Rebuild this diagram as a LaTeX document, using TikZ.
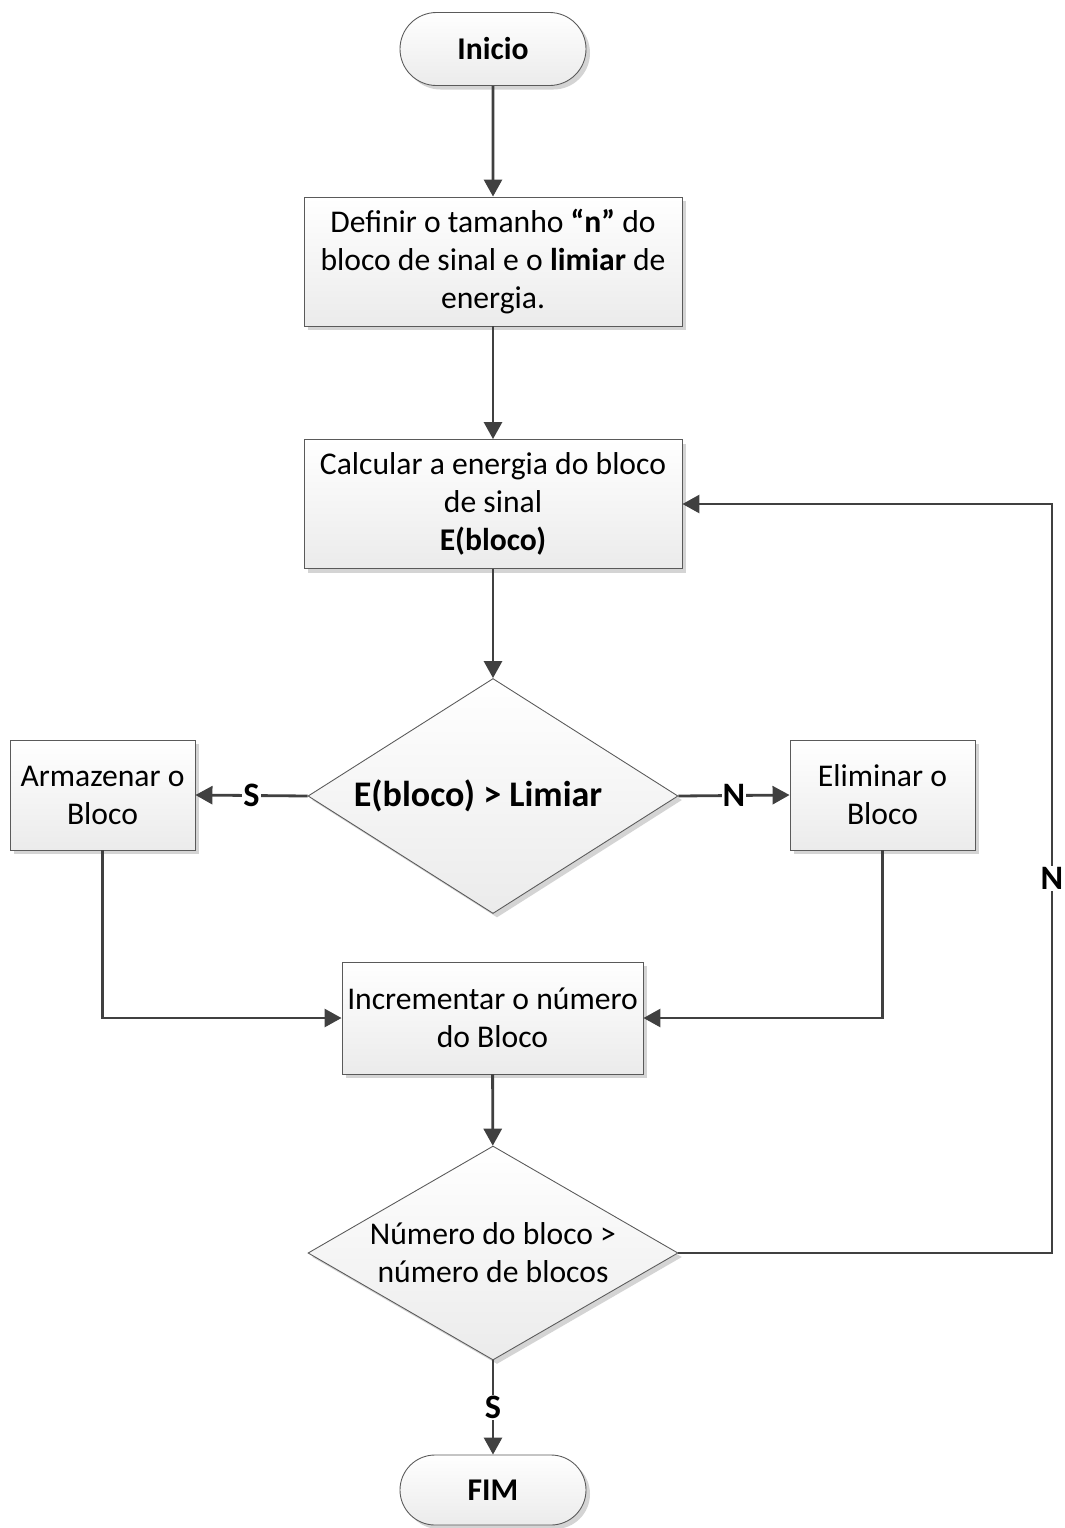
\documentclass[tikz,border=0pt]{standalone}
\usepackage{fontspec}
\setmainfont{Carlito}
\usepackage{tikz}
\usetikzlibrary{arrows.meta,calc,positioning,shapes.geometric,shapes.misc,shadows}
\definecolor{Line}{HTML}{404040}
\definecolor{Edge}{HTML}{5A5A5A}
\definecolor{FillTop}{HTML}{FFFFFF}
\definecolor{FillBot}{HTML}{EBEBEB}
\definecolor{Shade}{HTML}{D4D4D4}
\tikzset{shape base/.style={draw=Edge,line width=.5pt,top color=FillTop,bottom color=FillBot,align=center,inner sep=0pt,drop shadow={shadow xshift=.08cm,shadow yshift=-.08cm,fill=Shade,opacity=1}},terminal/.style={shape base,rounded rectangle,minimum width=3.72cm,minimum height=1.46cm,font=\fontsize{18}{22}\selectfont\bfseries},proc/.style={shape base,rectangle,font=\fontsize{18}{21.6}\selectfont},decision/.style={shape base,diamond,aspect=1.6,minimum width=7.4cm,font=\fontsize{18}{21.6}\selectfont},flow/.style={-{Triangle[length=3.4mm,width=3.6mm]},line width=1.6pt,draw=Line},lbl/.style={fill=white,inner sep=.6pt,font=\fontsize{19.5}{22}\selectfont\bfseries}}

\begin{document}
\begin{tikzpicture}
      \useasboundingbox (0,0) rectangle (21.3,-30.56);
      \node[terminal](ini) at (9.86,-0.98){Inicio};
      \node[proc,minimum width=7.56cm,minimum height=2.58cm](def) at (9.86,-5.23){Definir o tamanho \textbf{“n”} do\\bloco de sinal e o \textbf{limiar} de\\energia.};
      \node[proc,minimum width=7.56cm,minimum height=2.58cm](calc) at (9.86,-10.08){Calcular a energia do bloco\\de sinal\\\textbf{E(bloco)}};
      \node[decision,minimum height=4.7cm,font=\fontsize{20.5}{24}\selectfont\bfseries](dec1) at (9.86,-15.92){E(bloco) > Limiar\hspace*{.6cm}};
      \node[proc,minimum width=3.7cm,minimum height=2.2cm](arm) at (2.05,-15.9){Armazenar o\\Bloco};
      \node[proc,minimum width=3.7cm,minimum height=2.2cm](elim) at (17.65,-15.9){Eliminar o\\Bloco};
      \node[proc,minimum width=6.02cm,minimum height=2.24cm](inc) at (9.85,-20.36){Incrementar o número\\do Bloco};
      \node[decision,minimum height=4.24cm](dec2) at (9.86,-25.06){Número do bloco >\\número de blocos};
      \node[terminal,minimum height=1.4cm](fim) at (9.86,-29.8){FIM};
      \coordinate(loop) at (21.04,0);
      \draw[flow](ini)--(def);\draw[flow](def)--(calc);\draw[flow](calc)--(dec1);
      \draw[flow](dec1.west)--node[lbl]{S}(arm.east);
      \draw[flow](dec1.east)--node[lbl]{N}(elim.west);
      \draw[flow](arm.south)|-(inc.west);
      \draw[flow](elim.south)|-(inc.east);
      \draw[flow](inc)--(dec2);
      \draw[flow](dec2.south)--node[lbl]{S}(fim.north);
      \draw[flow](dec2.east)--(dec2.east-|loop)--node[lbl]{N}(calc.east-|loop)--(calc.east);
    \end{tikzpicture}
\end{document}
